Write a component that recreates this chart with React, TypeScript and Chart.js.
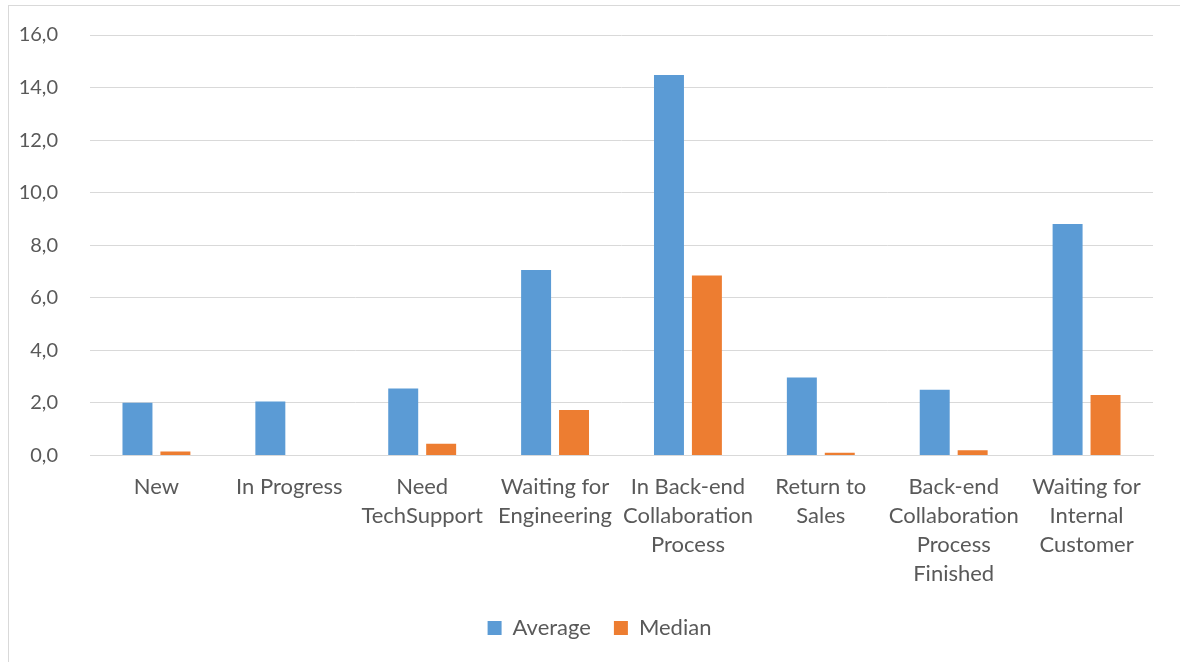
import React, { useEffect, useRef } from "react";
import { Chart, registerables } from "chart.js";

Chart.register(...registerables);

const categories: string[][] = [
  ["New"],
  ["In Progress"],
  ["Need", "TechSupport"],
  ["Waiting for", "Engineering"],
  ["In Back-end", "Collaboration", "Process"],
  ["Return to", "Sales"],
  ["Back-end", "Collaboration", "Process", "Finished"],
  ["Waiting for", "Internal", "Customer"],
];

const averageValues: number[] = [2.01, 2.05, 2.55, 7.06, 14.48, 2.97, 2.5, 8.81];
const medianValues: number[] = [0.15, 0, 0.45, 1.73, 6.85, 0.1, 0.2, 2.3];

const yTicks: number[] = [0, 2, 4, 6, 8, 10, 12, 14, 16];

const TEXT = "#595959";
const GRID = "#D9D9D9";
const FONT = "Lato, 'Open Sans', sans-serif";

// The chart frame runs wider than the visible page, so the legend is
// centred on the whole frame rather than on the canvas.
const legendOffset = {
  id: "legendOffset",
  afterLayout(chart: any) {
    if (chart.legend) chart.legend.left += 46;
  },
};

export default function App() {
  const canvasRef = useRef<HTMLCanvasElement | null>(null);

  useEffect(() => {
    if (!canvasRef.current) return;
    const chart = new Chart(canvasRef.current, {
      type: "bar",
      data: {
        labels: categories,
        datasets: [
          {
            label: "Average",
            data: averageValues,
            backgroundColor: "#5B9BD5",
            categoryPercentage: 0.571,
            barPercentage: 0.79,
          },
          {
            label: "Median",
            data: medianValues,
            backgroundColor: "#ED7D31",
            categoryPercentage: 0.571,
            barPercentage: 0.79,
          },
        ],
      },
      options: {
        animation: false,
        responsive: false,
        maintainAspectRatio: false,
        layout: { padding: { top: 35, right: 27, bottom: 13, left: 0 } },
        plugins: {
          legend: {
            position: "bottom",
            labels: {
              boxWidth: 14,
              boxHeight: 14,
              padding: 23,
              color: TEXT,
              font: { family: FONT, size: 22 },
            },
          },
          tooltip: { enabled: false },
        },
        scales: {
          x: {
            afterFit: (scale: any) => {
              scale.height = 138.5;
            },
            grid: { display: false, drawTicks: false },
            border: { display: true, color: GRID, width: 1 },
            ticks: {
              color: TEXT,
              padding: 17,
              maxRotation: 0,
              autoSkip: false,
              font: { family: FONT, size: 22, lineHeight: "29px" },
            },
          },
          y: {
            min: 0,
            max: 16,
            afterFit: (scale: any) => {
              scale.width = 90;
              scale.paddingTop = 0;
              scale.paddingBottom = 0;
            },
            afterBuildTicks: (scale: any) => {
              scale.ticks = yTicks.map((v) => ({ value: v }));
            },
            grid: { color: GRID, lineWidth: 1, drawTicks: false },
            border: { display: false },
            ticks: {
              color: TEXT,
              padding: 32,
              font: { family: FONT, size: 20 },
              callback: (v: any) => Number(v).toFixed(1).replace(".", ","),
            },
          },
        },
      },
      plugins: [legendOffset],
    });
    return () => chart.destroy();
  }, []);

  return (
    <>
      <div
        style={{
          position: "fixed",
          left: 8,
          top: 5,
          width: 1300,
          height: 800,
          border: `1px solid ${GRID}`,
          boxSizing: "border-box",
        }}
      />
      <div style={{ position: "fixed", left: 0, top: 0, width: 1180, height: 662 }}>
        <canvas ref={canvasRef} width={1180} height={662} style={{ display: "block" }} />
      </div>
    </>
  );
}
